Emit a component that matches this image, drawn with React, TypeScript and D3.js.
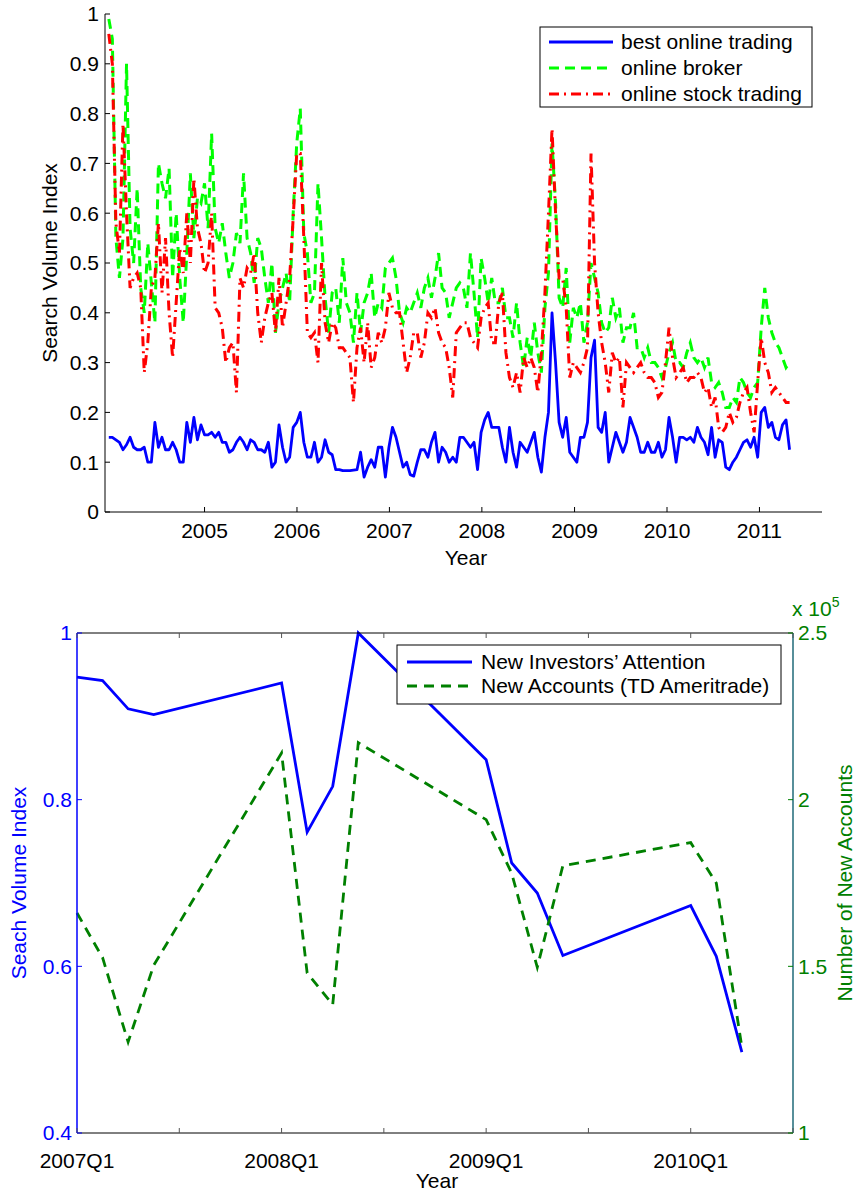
import * as d3 from "d3";

// weekly search volume sampled every two weeks, first point 2003-12-20
const START = new Date(2003, 11, 20);

const bestOnline = [
  0.15, 0.15, 0.145, 0.14, 0.125, 0.135, 0.15, 0.13, 0.125, 0.125,
  0.13, 0.10, 0.10, 0.18, 0.13, 0.15, 0.125, 0.125, 0.14, 0.125,
  0.10, 0.10, 0.18, 0.14, 0.19, 0.145, 0.175, 0.155, 0.155, 0.16,
  0.15, 0.16, 0.14, 0.14, 0.12, 0.125, 0.14, 0.15, 0.14, 0.125,
  0.145, 0.14, 0.125, 0.125, 0.12, 0.14, 0.09, 0.10, 0.175, 0.13,
  0.10, 0.11, 0.17, 0.18, 0.20, 0.14, 0.11, 0.11, 0.14, 0.10,
  0.11, 0.145, 0.12, 0.115, 0.085, 0.085, 0.083, 0.083, 0.083, 0.084,
  0.085, 0.12, 0.07, 0.09, 0.105, 0.09, 0.13, 0.13, 0.07, 0.13,
  0.17, 0.15, 0.12, 0.09, 0.10, 0.075, 0.072, 0.10, 0.125, 0.125,
  0.11, 0.14, 0.16, 0.10, 0.13, 0.12, 0.10, 0.11, 0.10, 0.15,
  0.15, 0.14, 0.13, 0.14, 0.085, 0.16, 0.185, 0.20, 0.17, 0.17,
  0.17, 0.13, 0.10, 0.17, 0.12, 0.09, 0.14, 0.13, 0.12, 0.14,
  0.16, 0.11, 0.08, 0.15, 0.20, 0.40, 0.30, 0.18, 0.15, 0.19,
  0.12, 0.11, 0.10, 0.15, 0.15, 0.18, 0.31, 0.345, 0.17, 0.16,
  0.20, 0.10, 0.13, 0.16, 0.14, 0.12, 0.14, 0.19, 0.17, 0.15,
  0.12, 0.12, 0.14, 0.12, 0.12, 0.14, 0.11, 0.125, 0.19, 0.15,
  0.10, 0.15, 0.15, 0.145, 0.15, 0.14, 0.17, 0.15, 0.14, 0.115,
  0.17, 0.11, 0.145, 0.14, 0.09, 0.085, 0.10, 0.11, 0.125, 0.14,
  0.145, 0.13, 0.15, 0.11, 0.20, 0.21, 0.17, 0.18, 0.15, 0.145,
  0.175, 0.185, 0.125,
];

const onlineBroker = [
  0.99, 0.95, 0.55, 0.47, 0.55, 0.9, 0.57, 0.5, 0.65, 0.45,
  0.4, 0.54, 0.46, 0.38, 0.7, 0.66, 0.63, 0.69, 0.47, 0.6,
  0.47, 0.38, 0.52, 0.68, 0.55, 0.63, 0.62, 0.66, 0.57, 0.76,
  0.57, 0.54, 0.58, 0.52, 0.47, 0.5, 0.56, 0.54, 0.68, 0.55,
  0.52, 0.46, 0.55, 0.53, 0.47, 0.42, 0.5, 0.36, 0.42, 0.45,
  0.48, 0.42, 0.6, 0.74, 0.81, 0.56, 0.52, 0.42, 0.44, 0.66,
  0.55, 0.43, 0.36, 0.44, 0.45, 0.38, 0.51, 0.42, 0.4, 0.34,
  0.44, 0.36, 0.42, 0.44, 0.48, 0.39, 0.42, 0.41, 0.49, 0.5,
  0.51, 0.47, 0.40, 0.38, 0.41, 0.40, 0.42, 0.44, 0.41, 0.45,
  0.47, 0.43, 0.47, 0.52, 0.45, 0.44, 0.39, 0.42, 0.45, 0.46,
  0.45, 0.41, 0.52, 0.44, 0.35, 0.51, 0.47, 0.42, 0.47, 0.42,
  0.42, 0.45, 0.39, 0.39, 0.35, 0.42, 0.34, 0.29, 0.35, 0.31,
  0.38, 0.32, 0.28, 0.41, 0.48, 0.74, 0.62, 0.43, 0.41, 0.49,
  0.34, 0.41, 0.39, 0.42, 0.34, 0.38, 0.5, 0.47, 0.44, 0.38,
  0.36, 0.37, 0.43, 0.39, 0.41, 0.34, 0.37, 0.37, 0.4, 0.33,
  0.33, 0.31, 0.33, 0.3, 0.3, 0.29, 0.27, 0.29, 0.32, 0.34,
  0.3, 0.3, 0.29, 0.32, 0.34, 0.31, 0.30, 0.31, 0.29, 0.31,
  0.26, 0.25, 0.26, 0.24, 0.21, 0.21, 0.23, 0.22, 0.27, 0.26,
  0.24, 0.23, 0.25, 0.26, 0.37, 0.45, 0.39, 0.36, 0.34, 0.33,
  0.31, 0.29, 0.30,
];

const onlineStock = [
  0.96, 0.9, 0.58, 0.52, 0.78, 0.6, 0.45, 0.47, 0.48, 0.45,
  0.28, 0.34, 0.45, 0.47, 0.58, 0.44, 0.55, 0.4, 0.31, 0.42,
  0.53, 0.48, 0.6, 0.5, 0.67, 0.57, 0.54, 0.48, 0.5, 0.6,
  0.41, 0.4, 0.37, 0.3, 0.33, 0.34, 0.24, 0.47, 0.45, 0.49,
  0.48, 0.52, 0.4, 0.34, 0.39, 0.42, 0.44, 0.36, 0.47, 0.37,
  0.42, 0.47, 0.59, 0.72, 0.72, 0.55, 0.36, 0.35, 0.36, 0.3,
  0.5, 0.38, 0.34, 0.38, 0.37, 0.33, 0.33, 0.32, 0.31, 0.22,
  0.33, 0.37, 0.3, 0.38, 0.29, 0.31, 0.36, 0.34, 0.37, 0.44,
  0.41, 0.4, 0.4, 0.34, 0.28, 0.31, 0.36, 0.36, 0.31, 0.34,
  0.4, 0.39, 0.41, 0.36, 0.34, 0.33, 0.29, 0.23, 0.36, 0.37,
  0.38, 0.38, 0.35, 0.34, 0.33, 0.39, 0.41, 0.42, 0.34, 0.34,
  0.42, 0.44, 0.32, 0.27, 0.25, 0.28, 0.24, 0.31, 0.29, 0.31,
  0.29, 0.24, 0.32, 0.44, 0.6, 0.77, 0.6, 0.47, 0.47, 0.41,
  0.27, 0.3, 0.29, 0.28, 0.3, 0.33, 0.72, 0.5, 0.4, 0.34,
  0.3, 0.24, 0.32, 0.3, 0.31, 0.21, 0.3, 0.29, 0.28, 0.29,
  0.3, 0.28, 0.27, 0.27, 0.26, 0.23, 0.24, 0.3, 0.37, 0.31,
  0.27, 0.28, 0.29, 0.26, 0.27, 0.27, 0.28, 0.27, 0.24, 0.25,
  0.21, 0.23, 0.17, 0.16, 0.17, 0.2, 0.18, 0.19, 0.22, 0.24,
  0.25, 0.2, 0.16, 0.26, 0.35, 0.3, 0.28, 0.24, 0.25, 0.24,
  0.23, 0.22, 0.22,
];

const topYearTicks = [2005, 2006, 2007, 2008, 2009, 2010, 2011];
const topYTicks = [0, 0.1, 0.2, 0.3, 0.4, 0.5, 0.6, 0.7, 0.8, 0.9, 1];

// quarterly panel
const quarters = [
  "2007Q1", "2007Q2", "2007Q3", "2007Q4",
  "2008Q1", "2008Q2", "2008Q3", "2008Q4",
  "2009Q1", "2009Q2", "2009Q3", "2009Q4",
  "2010Q1", "2010Q2", "2010Q3",
];
const attention = [0.947, 0.943, 0.909, 0.902, 0.94, 0.761, 0.816, 1.0, 0.848, 0.724, 0.688, 0.613, 0.673, 0.612, 0.497];
const newAccounts = [166000, 152600, 127300, 150300, 214000, 148000, 138500, 217100, 194000, 177900, 149700, 180200, 187100, 175000, 125800];
const leftTicks = [0.4, 0.6, 0.8, 1];
const rightTicks = [100000, 150000, 200000, 250000];
const halfYearTicks = [2007, 2007.5, 2008, 2008.5, 2009, 2009.5, 2010, 2010.5];
const labelYears = [2007, 2008, 2009, 2010];

const FONT = "'Liberation Sans', Arial, Helvetica, sans-serif";
const FS = 21;
const GREEN = "#008000";

// the quarters were placed at year + (q-1)/8 in the original figure
const quarterPos = (q: string) => +q.slice(0, 4) + (+q.slice(5) - 1) / 8;

export default function App() {
  // ---- top panel
  const dates = bestOnline.map((_, i) => d3.timeDay.offset(START, 14 * i));
  const x = d3.scaleTime()
    .domain([new Date(2003, 11, 5), new Date(2011, 8, 5)])
    .range([105, 822]);
  const y = d3.scaleLinear().domain([0, 1]).range([512, 14]);
  const line = d3.line<number>().x((d, i) => x(dates[i])).y(d => y(d));

  // ---- bottom panel
  const xb = d3.scaleLinear().domain([2007, 2010.5]).range([77, 793]);
  const yl = d3.scaleLinear().domain([0.4, 1]).range([1133, 633]);
  const yr = d3.scaleLinear().domain([100000, 250000]).range([1133, 633]);
  const lineL = d3.line<number>().x((d, i) => xb(quarterPos(quarters[i]))).y(d => yl(d));
  const lineR = d3.line<number>().x((d, i) => xb(quarterPos(quarters[i]))).y(d => yr(d));

  const topLegend = [
    { label: "best online trading", color: "#0000ff", dash: "none" },
    { label: "online broker", color: "#00ff00", dash: "10,6" },
    { label: "online stock trading", color: "#ff0000", dash: "10,5,2,5" },
  ];

  return (
    <div style={{ position: "absolute", left: 0, top: 0 }}>
      <svg width={855} height={1191} style={{ fontFamily: FONT, display: "block" }}>
        <rect width={855} height={1191} fill="#fff" />

        {/* top panel */}
        <path d={line(bestOnline) ?? ""} fill="none" stroke="#0000ff" strokeWidth={2.8} strokeLinejoin="round" />
        <path d={line(onlineBroker) ?? ""} fill="none" stroke="#00ff00" strokeWidth={3} strokeDasharray="10,6" />
        <path d={line(onlineStock) ?? ""} fill="none" stroke="#ff0000" strokeWidth={3} strokeDasharray="10,5,2,5" />

        <line x1={105} x2={105} y1={14} y2={512} stroke="#000" />
        <line x1={105} x2={822} y1={512} y2={512} stroke="#000" />
        {topYTicks.map(t => (
          <g key={t}>
            <line x1={105} x2={110} y1={y(t)} y2={y(t)} stroke="#000" />
            <text x={99} y={y(t)} dy="0.35em" textAnchor="end" fontSize={FS}>{String(+t.toFixed(1))}</text>
          </g>
        ))}
        {topYearTicks.map(t => (
          <g key={t}>
            <line x1={x(new Date(t, 0, 1))} x2={x(new Date(t, 0, 1))} y1={512} y2={507} stroke="#000" />
            <text x={x(new Date(t, 0, 1))} y={538} textAnchor="middle" fontSize={FS}>{t}</text>
          </g>
        ))}
        <text x={466} y={565} textAnchor="middle" fontSize={FS}>Year</text>
        <text transform={`translate(57,${(14 + 512) / 2}) rotate(-90)`} textAnchor="middle" fontSize={FS}>Search Volume Index</text>

        <rect x={540} y={27} width={272} height={80} fill="#fff" stroke="#000" />
        {topLegend.map((d, i) => (
          <g key={d.label}>
            <line x1={549} x2={613} y1={42 + i * 26} y2={42 + i * 26} stroke={d.color} strokeWidth={2.8} strokeDasharray={d.dash} />
            <text x={621} y={42 + i * 26} dy="0.35em" fontSize={FS}>{d.label}</text>
          </g>
        ))}

        {/* bottom panel */}
        <path d={lineL(attention) ?? ""} fill="none" stroke="#0000ff" strokeWidth={2.8} />
        <path d={lineR(newAccounts) ?? ""} fill="none" stroke={GREEN} strokeWidth={2.8} strokeDasharray="10,7" />

        <line x1={77} x2={793} y1={633} y2={633} stroke="#000" />
        <line x1={77} x2={793} y1={1133} y2={1133} stroke="#000" />
        <line x1={77} x2={77} y1={633} y2={1133} stroke="#0000ff" strokeWidth={1.5} />
        <line x1={793} x2={793} y1={633} y2={1133} stroke="#1f6a78" strokeWidth={1.5} />
        {halfYearTicks.map(t => (
          <g key={t}>
            <line x1={xb(t)} x2={xb(t)} y1={1133} y2={1128} stroke="#555" />
            <line x1={xb(t)} x2={xb(t)} y1={633} y2={638} stroke="#555" />
          </g>
        ))}
        {labelYears.map(t => (
          <text key={t} x={xb(t)} y={1168} textAnchor="middle" fontSize={FS}>{`${t}Q1`}</text>
        ))}
        <text x={437} y={1188} textAnchor="middle" fontSize={FS}>Year</text>

        {leftTicks.map(t => (
          <g key={t}>
            <line x1={77} x2={82} y1={yl(t)} y2={yl(t)} stroke="#0000ff" />
            <text x={72} y={yl(t)} dy="0.35em" textAnchor="end" fontSize={FS} fill="#0000ff">{String(t)}</text>
          </g>
        ))}
        {rightTicks.map(t => (
          <g key={t}>
            <line x1={793} x2={788} y1={yr(t)} y2={yr(t)} stroke={GREEN} />
            <text x={798} y={yr(t)} dy="0.35em" fontSize={FS} fill={GREEN}>{String(t / 100000)}</text>
          </g>
        ))}
        <text x={792} y={616} fontSize={FS} fill={GREEN}>
          x 10<tspan dy={-9} fontSize={14}>5</tspan>
        </text>
        <text transform={`translate(26,${(633 + 1133) / 2}) rotate(-90)`} textAnchor="middle" fontSize={FS} fill="#0000ff">Seach Volume Index</text>
        <text transform={`translate(852,${(633 + 1133) / 2}) rotate(-90)`} textAnchor="middle" fontSize={FS} fill={GREEN}>Number of New Accounts</text>

        <rect x={397} y={645} width={384} height={59} fill="#fff" stroke="#000" />
        <line x1={407} x2={472} y1={662} y2={662} stroke="#0000ff" strokeWidth={2.8} />
        <text x={481} y={662} dy="0.35em" fontSize={FS}>New Investors’ Attention</text>
        <line x1={407} x2={472} y1={686} y2={686} stroke={GREEN} strokeWidth={2.8} strokeDasharray="10,7" />
        <text x={481} y={686} dy="0.35em" fontSize={FS}>New Accounts (TD Ameritrade)</text>
      </svg>
    </div>
  );
}
